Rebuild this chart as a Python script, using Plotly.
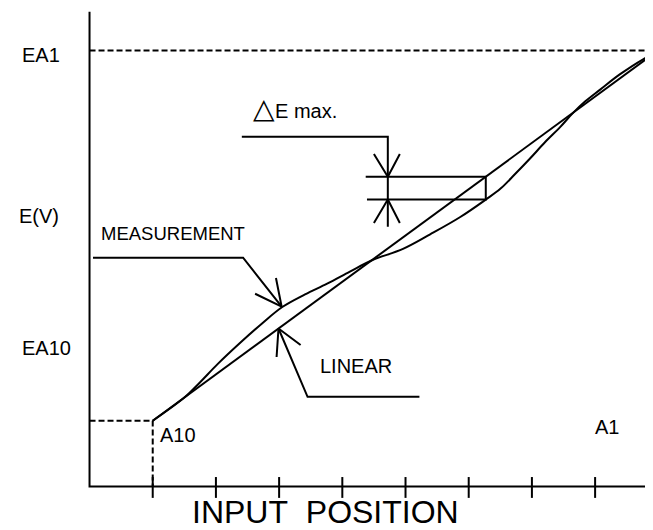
import plotly.graph_objects as go

# input positions (tick index) and output voltage, arbitrary units
tick_positions = [1, 2, 3, 4, 5, 6, 7, 8]

linear_x = [1.0, 8.9]
linear_y = [1.04, 6.83]

meas_x = [1.0, 1.51, 1.75, 2.03, 2.38, 2.73, 3.05, 3.41, 3.76, 4.12, 4.47, 4.96, 5.39,
          5.86, 6.27, 6.5, 6.73, 6.97, 7.21, 7.45, 7.64, 7.84, 8.08, 8.39, 8.76, 8.9]
meas_y = [1.04, 1.415, 1.65, 1.94, 2.27, 2.58, 2.84, 3.04, 3.21, 3.4, 3.58, 3.76, 3.99,
          4.26, 4.54, 4.71, 4.94, 5.19, 5.45, 5.69, 5.9, 6.09, 6.28, 6.52, 6.76, 6.83]

ea1 = 6.9          # full scale output level
a10_x, a10_y = 1.0, 1.04
x_end = 8.92
y_top = 7.51

# delta E max. marker (at position where the gap is largest)
de_x = 6.27
de_top, de_bot = 4.90, 4.54

BLACK = "#000000"
FONT = "Arial, Liberation Sans, sans-serif"

fig = go.Figure()


def seg(xs, ys, dash="solid", width=2):
    fig.add_trace(go.Scatter(x=xs, y=ys, mode="lines", hoverinfo="skip",
                             line=dict(color=BLACK, width=width, dash=dash)))


# axes
seg([0, 0, x_end], [y_top, 0, 0])
tx, ty = [], []
for t in tick_positions:
    tx += [t, t, None]
    ty += [0.15, -0.18, None]
seg(tx, ty)

# reference levels
seg([0, x_end], [ea1, ea1], dash="6px,3px")
seg([0, a10_x, a10_x], [a10_y, a10_y, 0], dash="6px,3px")

# curves
seg(linear_x, linear_y)
fig.add_trace(go.Scatter(x=meas_x, y=meas_y, mode="lines", hoverinfo="skip",
                         line=dict(color=BLACK, width=2, shape="spline", smoothing=1)))

# delta E max. dimension
seg([2.41, 4.72, 4.72], [5.535, 5.535, 4.11])
seg([4.37, de_x, de_x, 4.39], [de_top, de_top, de_bot, de_bot])
seg([4.50, 4.72, 4.91, None, 4.50, 4.72, 4.91],
    [5.26, de_top, 5.26, None, 4.17, de_bot, 4.17])

# MEASUREMENT leader
seg([0.055, 2.43, 3.04], [3.62, 3.62, 2.845])
seg([2.62, 3.04, 2.95], [3.05, 2.845, 3.30])

# LINEAR leader
seg([2.99, 3.45, 5.22], [2.50, 1.42, 1.42])
seg([2.96, 2.99, 3.34], [2.05, 2.50, 2.24])

labels = [
    ("EA1", -1.10, 6.83, 20),
    ("E(V)", -1.15, 4.28, 20),
    ("EA10", -1.10, 2.19, 20),
    ("MEASUREMENT", 0.15, 4.0, 18.5),
    ("LINEAR", 3.62, 1.91, 20),
    ('<span style="font-size:28px">\u25b3</span>E max.', 2.55, 5.98, 20),
    ("A10", 1.08, 0.815, 20),
    ("A1", 7.97, 0.94, 20),
    ("INPUT\u00a0\u00a0POSITION", 3.74, -0.40, 32),
]
for text, x, y, size in labels:
    fig.add_annotation(x=x, y=y, text=text, showarrow=False,
                       xanchor="center" if size > 30 else "left", yanchor="middle",
                       font=dict(family=FONT, size=size, color=BLACK))

# the page body has an 8px margin, so the figure is 8px smaller and the ranges start there
fig.update_layout(
    width=645, height=522,
    margin=dict(l=0, r=0, t=0, b=0),
    plot_bgcolor="white", paper_bgcolor="white",
    showlegend=False,
    xaxis=dict(visible=False, range=[-1.290, 8.916]),
    yaxis=dict(visible=False, range=[-0.688, 7.571]),
)

fig.write_html("out.html")
